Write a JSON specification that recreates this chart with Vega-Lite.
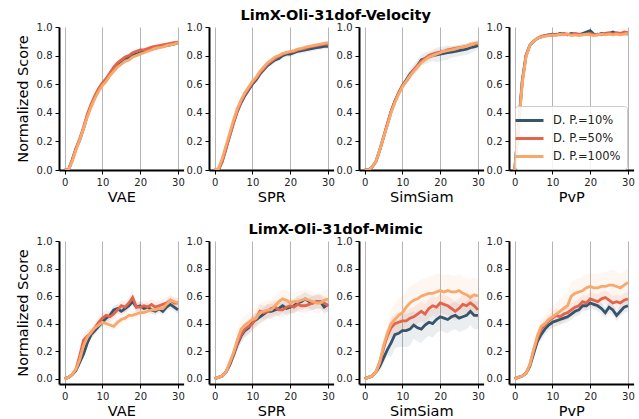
{
"$schema": "https://vega.github.io/schema/vega-lite/v6.json",
"padding": {"left": 15, "top": 7, "right": 5, "bottom": 5},
"background": "white",
"config": {
  "view": {"stroke": null},
  "font": "DejaVu Sans",
  "axis": {"domainColor": "black", "domainWidth": 2, "tickColor": "black", "tickSize": 4, "tickWidth": 1, "labelFont": "DejaVu Sans", "labelFontSize": 10, "labelColor": "#222", "labelPadding": 3, "titleFont": "DejaVu Sans", "titleFontSize": 14.5, "titleFontWeight": "normal", "titleColor": "black"},
  "axisX": {"grid": true, "gridColor": "#b5b5b5", "gridWidth": 1, "values": [0, 10, 20, 30], "titlePadding": 3, "labelFlush": false},
  "axisY": {"grid": false, "values": [0, 0.2, 0.4, 0.6, 0.8, 1.0], "format": ".1f", "titlePadding": 6},
  "legend": {"orient": "none", "legendX": 456, "legendY": 79, "title": null, "labelFont": "DejaVu Sans", "labelFontSize": 11.5, "labelColor": "#222", "symbolType": "M-2,0L2,0", "symbolSize": 196, "symbolStrokeWidth": 3, "symbolOpacity": 1, "labelOffset": 15, "rowPadding": 3, "padding": 6, "strokeColor": "#cccccc", "fillColor": "rgba(255,255,255,0.85)", "cornerRadius": 3},
  "title": {"font": "DejaVu Sans", "fontSize": 14.5, "fontWeight": "bold", "color": "black", "anchor": "middle"}
},
"datasets": {
"vVAE": [
{"s":10,"x":0,"y":0,"e":0.01},{"s":10,"x":1,"y":0,"e":0.01},{"s":10,"x":2,"y":0.07,"e":0.01},{"s":10,"x":3,"y":0.15,"e":0.01},{"s":10,"x":4,"y":0.21,"e":0.01},{"s":10,"x":5,"y":0.29,"e":0.01},{"s":10,"x":6,"y":0.38,"e":0.01},{"s":10,"x":7,"y":0.45,"e":0.01},{"s":10,"x":8,"y":0.51,"e":0.01},{"s":10,"x":9,"y":0.56,"e":0.01},{"s":10,"x":10,"y":0.6,"e":0.01},{"s":10,"x":11,"y":0.63,"e":0.01},{"s":10,"x":12,"y":0.67,"e":0.01},{"s":10,"x":13,"y":0.71,"e":0.01},{"s":10,"x":14,"y":0.73,"e":0.01},{"s":10,"x":15,"y":0.75,"e":0.01},{"s":10,"x":16,"y":0.77,"e":0.01},{"s":10,"x":17,"y":0.79,"e":0.01},{"s":10,"x":18,"y":0.8,"e":0.01},{"s":10,"x":19,"y":0.81,"e":0.01},{"s":10,"x":20,"y":0.82,"e":0.01},{"s":10,"x":21,"y":0.83,"e":0.01},{"s":10,"x":22,"y":0.84,"e":0.01},{"s":10,"x":23,"y":0.845,"e":0.01},{"s":10,"x":24,"y":0.85,"e":0.01},{"s":10,"x":25,"y":0.86,"e":0.01},{"s":10,"x":26,"y":0.865,"e":0.01},{"s":10,"x":27,"y":0.87,"e":0.01},{"s":10,"x":28,"y":0.875,"e":0.01},{"s":10,"x":29,"y":0.88,"e":0.01},{"s":10,"x":30,"y":0.89,"e":0.01},
{"s":50,"x":0,"y":0,"e":0.01},{"s":50,"x":1,"y":0,"e":0.01},{"s":50,"x":2,"y":0.07,"e":0.01},{"s":50,"x":3,"y":0.15,"e":0.01},{"s":50,"x":4,"y":0.22,"e":0.01},{"s":50,"x":5,"y":0.3,"e":0.01},{"s":50,"x":6,"y":0.39,"e":0.01},{"s":50,"x":7,"y":0.46,"e":0.01},{"s":50,"x":8,"y":0.52,"e":0.01},{"s":50,"x":9,"y":0.57,"e":0.01},{"s":50,"x":10,"y":0.61,"e":0.01},{"s":50,"x":11,"y":0.64,"e":0.01},{"s":50,"x":12,"y":0.68,"e":0.01},{"s":50,"x":13,"y":0.72,"e":0.01},{"s":50,"x":14,"y":0.75,"e":0.01},{"s":50,"x":15,"y":0.77,"e":0.01},{"s":50,"x":16,"y":0.79,"e":0.01},{"s":50,"x":17,"y":0.8,"e":0.01},{"s":50,"x":18,"y":0.82,"e":0.01},{"s":50,"x":19,"y":0.83,"e":0.01},{"s":50,"x":20,"y":0.84,"e":0.01},{"s":50,"x":21,"y":0.84,"e":0.01},{"s":50,"x":22,"y":0.85,"e":0.01},{"s":50,"x":23,"y":0.86,"e":0.01},{"s":50,"x":24,"y":0.865,"e":0.01},{"s":50,"x":25,"y":0.87,"e":0.01},{"s":50,"x":26,"y":0.875,"e":0.01},{"s":50,"x":27,"y":0.88,"e":0.01},{"s":50,"x":28,"y":0.885,"e":0.01},{"s":50,"x":29,"y":0.89,"e":0.01},{"s":50,"x":30,"y":0.895,"e":0.01},
{"s":100,"x":0,"y":0,"e":0.01},{"s":100,"x":1,"y":0,"e":0.01},{"s":100,"x":2,"y":0.06,"e":0.01},{"s":100,"x":3,"y":0.14,"e":0.01},{"s":100,"x":4,"y":0.21,"e":0.01},{"s":100,"x":5,"y":0.29,"e":0.01},{"s":100,"x":6,"y":0.37,"e":0.01},{"s":100,"x":7,"y":0.44,"e":0.01},{"s":100,"x":8,"y":0.5,"e":0.01},{"s":100,"x":9,"y":0.55,"e":0.01},{"s":100,"x":10,"y":0.59,"e":0.01},{"s":100,"x":11,"y":0.62,"e":0.01},{"s":100,"x":12,"y":0.66,"e":0.01},{"s":100,"x":13,"y":0.69,"e":0.01},{"s":100,"x":14,"y":0.72,"e":0.01},{"s":100,"x":15,"y":0.74,"e":0.01},{"s":100,"x":16,"y":0.76,"e":0.01},{"s":100,"x":17,"y":0.77,"e":0.01},{"s":100,"x":18,"y":0.79,"e":0.01},{"s":100,"x":19,"y":0.8,"e":0.01},{"s":100,"x":20,"y":0.81,"e":0.01},{"s":100,"x":21,"y":0.82,"e":0.01},{"s":100,"x":22,"y":0.83,"e":0.01},{"s":100,"x":23,"y":0.84,"e":0.01},{"s":100,"x":24,"y":0.85,"e":0.01},{"s":100,"x":25,"y":0.855,"e":0.01},{"s":100,"x":26,"y":0.86,"e":0.01},{"s":100,"x":27,"y":0.87,"e":0.01},{"s":100,"x":28,"y":0.875,"e":0.01},{"s":100,"x":29,"y":0.88,"e":0.01},{"s":100,"x":30,"y":0.89,"e":0.01}
],
"vSPR": [
{"s":10,"x":0,"y":0,"e":0.01},{"s":10,"x":1,"y":0,"e":0.01},{"s":10,"x":2,"y":0.06,"e":0.01},{"s":10,"x":3,"y":0.15,"e":0.01},{"s":10,"x":4,"y":0.24,"e":0.01},{"s":10,"x":5,"y":0.33,"e":0.01},{"s":10,"x":6,"y":0.41,"e":0.01},{"s":10,"x":7,"y":0.47,"e":0.01},{"s":10,"x":8,"y":0.52,"e":0.01},{"s":10,"x":9,"y":0.56,"e":0.01},{"s":10,"x":10,"y":0.6,"e":0.01},{"s":10,"x":11,"y":0.63,"e":0.01},{"s":10,"x":12,"y":0.67,"e":0.01},{"s":10,"x":13,"y":0.7,"e":0.01},{"s":10,"x":14,"y":0.73,"e":0.01},{"s":10,"x":15,"y":0.75,"e":0.02},{"s":10,"x":16,"y":0.77,"e":0.02},{"s":10,"x":17,"y":0.78,"e":0.02},{"s":10,"x":18,"y":0.8,"e":0.02},{"s":10,"x":19,"y":0.81,"e":0.02},{"s":10,"x":20,"y":0.81,"e":0.02},{"s":10,"x":21,"y":0.82,"e":0.02},{"s":10,"x":22,"y":0.83,"e":0.02},{"s":10,"x":23,"y":0.835,"e":0.02},{"s":10,"x":24,"y":0.84,"e":0.02},{"s":10,"x":25,"y":0.845,"e":0.02},{"s":10,"x":26,"y":0.85,"e":0.02},{"s":10,"x":27,"y":0.855,"e":0.02},{"s":10,"x":28,"y":0.86,"e":0.02},{"s":10,"x":29,"y":0.865,"e":0.02},{"s":10,"x":30,"y":0.865,"e":0.02},
{"s":50,"x":0,"y":0,"e":0.01},{"s":50,"x":1,"y":0,"e":0.01},{"s":50,"x":2,"y":0.06,"e":0.01},{"s":50,"x":3,"y":0.15,"e":0.01},{"s":50,"x":4,"y":0.24,"e":0.01},{"s":50,"x":5,"y":0.33,"e":0.01},{"s":50,"x":6,"y":0.41,"e":0.01},{"s":50,"x":7,"y":0.48,"e":0.01},{"s":50,"x":8,"y":0.53,"e":0.01},{"s":50,"x":9,"y":0.57,"e":0.01},{"s":50,"x":10,"y":0.61,"e":0.01},{"s":50,"x":11,"y":0.64,"e":0.01},{"s":50,"x":12,"y":0.68,"e":0.01},{"s":50,"x":13,"y":0.71,"e":0.01},{"s":50,"x":14,"y":0.74,"e":0.01},{"s":50,"x":15,"y":0.76,"e":0.01},{"s":50,"x":16,"y":0.78,"e":0.01},{"s":50,"x":17,"y":0.795,"e":0.01},{"s":50,"x":18,"y":0.81,"e":0.01},{"s":50,"x":19,"y":0.82,"e":0.01},{"s":50,"x":20,"y":0.825,"e":0.01},{"s":50,"x":21,"y":0.83,"e":0.01},{"s":50,"x":22,"y":0.84,"e":0.01},{"s":50,"x":23,"y":0.845,"e":0.01},{"s":50,"x":24,"y":0.85,"e":0.01},{"s":50,"x":25,"y":0.86,"e":0.01},{"s":50,"x":26,"y":0.865,"e":0.01},{"s":50,"x":27,"y":0.87,"e":0.01},{"s":50,"x":28,"y":0.875,"e":0.01},{"s":50,"x":29,"y":0.88,"e":0.01},{"s":50,"x":30,"y":0.88,"e":0.01},
{"s":100,"x":0,"y":0,"e":0.01},{"s":100,"x":1,"y":0.01,"e":0.01},{"s":100,"x":2,"y":0.08,"e":0.01},{"s":100,"x":3,"y":0.17,"e":0.01},{"s":100,"x":4,"y":0.26,"e":0.01},{"s":100,"x":5,"y":0.35,"e":0.01},{"s":100,"x":6,"y":0.43,"e":0.01},{"s":100,"x":7,"y":0.49,"e":0.01},{"s":100,"x":8,"y":0.54,"e":0.01},{"s":100,"x":9,"y":0.58,"e":0.01},{"s":100,"x":10,"y":0.62,"e":0.01},{"s":100,"x":11,"y":0.65,"e":0.01},{"s":100,"x":12,"y":0.69,"e":0.01},{"s":100,"x":13,"y":0.72,"e":0.01},{"s":100,"x":14,"y":0.75,"e":0.01},{"s":100,"x":15,"y":0.77,"e":0.01},{"s":100,"x":16,"y":0.79,"e":0.01},{"s":100,"x":17,"y":0.8,"e":0.01},{"s":100,"x":18,"y":0.815,"e":0.01},{"s":100,"x":19,"y":0.82,"e":0.01},{"s":100,"x":20,"y":0.83,"e":0.01},{"s":100,"x":21,"y":0.835,"e":0.01},{"s":100,"x":22,"y":0.845,"e":0.01},{"s":100,"x":23,"y":0.85,"e":0.01},{"s":100,"x":24,"y":0.86,"e":0.01},{"s":100,"x":25,"y":0.865,"e":0.01},{"s":100,"x":26,"y":0.87,"e":0.01},{"s":100,"x":27,"y":0.875,"e":0.01},{"s":100,"x":28,"y":0.88,"e":0.01},{"s":100,"x":29,"y":0.885,"e":0.01},{"s":100,"x":30,"y":0.89,"e":0.01}
],
"vSimSiam": [
{"s":10,"x":0,"y":0,"e":0.01},{"s":10,"x":1,"y":0,"e":0.01},{"s":10,"x":2,"y":0.02,"e":0.01},{"s":10,"x":3,"y":0.06,"e":0.01},{"s":10,"x":4,"y":0.14,"e":0.01},{"s":10,"x":5,"y":0.23,"e":0.01},{"s":10,"x":6,"y":0.32,"e":0.01},{"s":10,"x":7,"y":0.41,"e":0.01},{"s":10,"x":8,"y":0.48,"e":0.02},{"s":10,"x":9,"y":0.54,"e":0.02},{"s":10,"x":10,"y":0.59,"e":0.02},{"s":10,"x":11,"y":0.63,"e":0.03},{"s":10,"x":12,"y":0.67,"e":0.04},{"s":10,"x":13,"y":0.7,"e":0.04},{"s":10,"x":14,"y":0.73,"e":0.04},{"s":10,"x":15,"y":0.77,"e":0.04},{"s":10,"x":16,"y":0.78,"e":0.04},{"s":10,"x":17,"y":0.79,"e":0.04},{"s":10,"x":18,"y":0.8,"e":0.04},{"s":10,"x":19,"y":0.805,"e":0.05},{"s":10,"x":20,"y":0.81,"e":0.05},{"s":10,"x":21,"y":0.815,"e":0.05},{"s":10,"x":22,"y":0.82,"e":0.05},{"s":10,"x":23,"y":0.825,"e":0.04},{"s":10,"x":24,"y":0.83,"e":0.04},{"s":10,"x":25,"y":0.835,"e":0.04},{"s":10,"x":26,"y":0.84,"e":0.04},{"s":10,"x":27,"y":0.845,"e":0.04},{"s":10,"x":28,"y":0.855,"e":0.04},{"s":10,"x":29,"y":0.86,"e":0.03},{"s":10,"x":30,"y":0.87,"e":0.03},
{"s":50,"x":0,"y":0,"e":0.01},{"s":50,"x":1,"y":0,"e":0.01},{"s":50,"x":2,"y":0.02,"e":0.01},{"s":50,"x":3,"y":0.06,"e":0.01},{"s":50,"x":4,"y":0.14,"e":0.01},{"s":50,"x":5,"y":0.23,"e":0.01},{"s":50,"x":6,"y":0.32,"e":0.01},{"s":50,"x":7,"y":0.41,"e":0.01},{"s":50,"x":8,"y":0.48,"e":0.02},{"s":50,"x":9,"y":0.54,"e":0.02},{"s":50,"x":10,"y":0.59,"e":0.02},{"s":50,"x":11,"y":0.62,"e":0.02},{"s":50,"x":12,"y":0.66,"e":0.02},{"s":50,"x":13,"y":0.7,"e":0.02},{"s":50,"x":14,"y":0.73,"e":0.02},{"s":50,"x":15,"y":0.76,"e":0.02},{"s":50,"x":16,"y":0.78,"e":0.02},{"s":50,"x":17,"y":0.8,"e":0.02},{"s":50,"x":18,"y":0.81,"e":0.02},{"s":50,"x":19,"y":0.82,"e":0.02},{"s":50,"x":20,"y":0.825,"e":0.02},{"s":50,"x":21,"y":0.83,"e":0.02},{"s":50,"x":22,"y":0.84,"e":0.02},{"s":50,"x":23,"y":0.845,"e":0.02},{"s":50,"x":24,"y":0.85,"e":0.02},{"s":50,"x":25,"y":0.855,"e":0.02},{"s":50,"x":26,"y":0.86,"e":0.02},{"s":50,"x":27,"y":0.865,"e":0.02},{"s":50,"x":28,"y":0.875,"e":0.02},{"s":50,"x":29,"y":0.88,"e":0.02},{"s":50,"x":30,"y":0.885,"e":0.02},
{"s":100,"x":0,"y":0,"e":0.01},{"s":100,"x":1,"y":0,"e":0.01},{"s":100,"x":2,"y":0.02,"e":0.01},{"s":100,"x":3,"y":0.06,"e":0.01},{"s":100,"x":4,"y":0.14,"e":0.01},{"s":100,"x":5,"y":0.23,"e":0.01},{"s":100,"x":6,"y":0.31,"e":0.01},{"s":100,"x":7,"y":0.4,"e":0.01},{"s":100,"x":8,"y":0.47,"e":0.02},{"s":100,"x":9,"y":0.53,"e":0.02},{"s":100,"x":10,"y":0.58,"e":0.02},{"s":100,"x":11,"y":0.62,"e":0.02},{"s":100,"x":12,"y":0.66,"e":0.02},{"s":100,"x":13,"y":0.69,"e":0.02},{"s":100,"x":14,"y":0.72,"e":0.02},{"s":100,"x":15,"y":0.75,"e":0.02},{"s":100,"x":16,"y":0.77,"e":0.02},{"s":100,"x":17,"y":0.79,"e":0.02},{"s":100,"x":18,"y":0.8,"e":0.02},{"s":100,"x":19,"y":0.81,"e":0.02},{"s":100,"x":20,"y":0.82,"e":0.02},{"s":100,"x":21,"y":0.83,"e":0.02},{"s":100,"x":22,"y":0.835,"e":0.02},{"s":100,"x":23,"y":0.84,"e":0.02},{"s":100,"x":24,"y":0.845,"e":0.02},{"s":100,"x":25,"y":0.855,"e":0.02},{"s":100,"x":26,"y":0.86,"e":0.02},{"s":100,"x":27,"y":0.865,"e":0.02},{"s":100,"x":28,"y":0.875,"e":0.02},{"s":100,"x":29,"y":0.885,"e":0.02},{"s":100,"x":30,"y":0.89,"e":0.02}
],
"vPvP": [
{"s":10,"x":0,"y":0,"e":0.01},{"s":10,"x":1,"y":0.3,"e":0.01},{"s":10,"x":2,"y":0.62,"e":0.01},{"s":10,"x":3,"y":0.8,"e":0.01},{"s":10,"x":4,"y":0.87,"e":0.01},{"s":10,"x":5,"y":0.9,"e":0.01},{"s":10,"x":6,"y":0.92,"e":0.01},{"s":10,"x":7,"y":0.93,"e":0.01},{"s":10,"x":8,"y":0.94,"e":0.01},{"s":10,"x":9,"y":0.945,"e":0.01},{"s":10,"x":10,"y":0.95,"e":0.01},{"s":10,"x":11,"y":0.945,"e":0.01},{"s":10,"x":12,"y":0.955,"e":0.01},{"s":10,"x":13,"y":0.95,"e":0.01},{"s":10,"x":14,"y":0.945,"e":0.01},{"s":10,"x":15,"y":0.955,"e":0.01},{"s":10,"x":16,"y":0.95,"e":0.01},{"s":10,"x":17,"y":0.945,"e":0.01},{"s":10,"x":18,"y":0.955,"e":0.01},{"s":10,"x":19,"y":0.965,"e":0.01},{"s":10,"x":20,"y":0.975,"e":0.01},{"s":10,"x":21,"y":0.95,"e":0.01},{"s":10,"x":22,"y":0.945,"e":0.01},{"s":10,"x":23,"y":0.955,"e":0.01},{"s":10,"x":24,"y":0.95,"e":0.01},{"s":10,"x":25,"y":0.955,"e":0.01},{"s":10,"x":26,"y":0.965,"e":0.01},{"s":10,"x":27,"y":0.955,"e":0.01},{"s":10,"x":28,"y":0.95,"e":0.01},{"s":10,"x":29,"y":0.955,"e":0.01},{"s":10,"x":30,"y":0.95,"e":0.01},
{"s":50,"x":0,"y":0,"e":0.01},{"s":50,"x":1,"y":0.3,"e":0.01},{"s":50,"x":2,"y":0.62,"e":0.01},{"s":50,"x":3,"y":0.8,"e":0.01},{"s":50,"x":4,"y":0.87,"e":0.01},{"s":50,"x":5,"y":0.9,"e":0.01},{"s":50,"x":6,"y":0.92,"e":0.01},{"s":50,"x":7,"y":0.935,"e":0.01},{"s":50,"x":8,"y":0.94,"e":0.01},{"s":50,"x":9,"y":0.945,"e":0.01},{"s":50,"x":10,"y":0.94,"e":0.01},{"s":50,"x":11,"y":0.95,"e":0.01},{"s":50,"x":12,"y":0.945,"e":0.01},{"s":50,"x":13,"y":0.955,"e":0.01},{"s":50,"x":14,"y":0.95,"e":0.01},{"s":50,"x":15,"y":0.945,"e":0.01},{"s":50,"x":16,"y":0.955,"e":0.01},{"s":50,"x":17,"y":0.95,"e":0.01},{"s":50,"x":18,"y":0.945,"e":0.01},{"s":50,"x":19,"y":0.95,"e":0.01},{"s":50,"x":20,"y":0.955,"e":0.01},{"s":50,"x":21,"y":0.945,"e":0.01},{"s":50,"x":22,"y":0.95,"e":0.01},{"s":50,"x":23,"y":0.945,"e":0.01},{"s":50,"x":24,"y":0.955,"e":0.01},{"s":50,"x":25,"y":0.96,"e":0.01},{"s":50,"x":26,"y":0.95,"e":0.01},{"s":50,"x":27,"y":0.96,"e":0.01},{"s":50,"x":28,"y":0.955,"e":0.01},{"s":50,"x":29,"y":0.965,"e":0.01},{"s":50,"x":30,"y":0.96,"e":0.01},
{"s":100,"x":0,"y":0,"e":0.01},{"s":100,"x":1,"y":0.28,"e":0.01},{"s":100,"x":2,"y":0.6,"e":0.01},{"s":100,"x":3,"y":0.79,"e":0.01},{"s":100,"x":4,"y":0.87,"e":0.01},{"s":100,"x":5,"y":0.9,"e":0.01},{"s":100,"x":6,"y":0.92,"e":0.01},{"s":100,"x":7,"y":0.93,"e":0.01},{"s":100,"x":8,"y":0.935,"e":0.01},{"s":100,"x":9,"y":0.94,"e":0.01},{"s":100,"x":10,"y":0.945,"e":0.01},{"s":100,"x":11,"y":0.94,"e":0.01},{"s":100,"x":12,"y":0.95,"e":0.01},{"s":100,"x":13,"y":0.945,"e":0.01},{"s":100,"x":14,"y":0.95,"e":0.01},{"s":100,"x":15,"y":0.94,"e":0.01},{"s":100,"x":16,"y":0.945,"e":0.01},{"s":100,"x":17,"y":0.94,"e":0.01},{"s":100,"x":18,"y":0.945,"e":0.01},{"s":100,"x":19,"y":0.95,"e":0.01},{"s":100,"x":20,"y":0.945,"e":0.01},{"s":100,"x":21,"y":0.94,"e":0.01},{"s":100,"x":22,"y":0.945,"e":0.01},{"s":100,"x":23,"y":0.95,"e":0.01},{"s":100,"x":24,"y":0.945,"e":0.01},{"s":100,"x":25,"y":0.95,"e":0.01},{"s":100,"x":26,"y":0.945,"e":0.01},{"s":100,"x":27,"y":0.95,"e":0.01},{"s":100,"x":28,"y":0.945,"e":0.01},{"s":100,"x":29,"y":0.95,"e":0.01},{"s":100,"x":30,"y":0.955,"e":0.01}
],
"mVAE": [
{"s":10,"x":0,"y":0,"e":0.01},{"s":10,"x":1,"y":0.01,"e":0.01},{"s":10,"x":2,"y":0.03,"e":0.01},{"s":10,"x":3,"y":0.06,"e":0.01},{"s":10,"x":4,"y":0.12,"e":0.03},{"s":10,"x":5,"y":0.18,"e":0.03},{"s":10,"x":6,"y":0.26,"e":0.03},{"s":10,"x":7,"y":0.32,"e":0.03},{"s":10,"x":8,"y":0.35,"e":0.03},{"s":10,"x":9,"y":0.38,"e":0.03},{"s":10,"x":10,"y":0.41,"e":0.03},{"s":10,"x":11,"y":0.44,"e":0.03},{"s":10,"x":12,"y":0.46,"e":0.03},{"s":10,"x":13,"y":0.5,"e":0.03},{"s":10,"x":14,"y":0.51,"e":0.03},{"s":10,"x":15,"y":0.49,"e":0.03},{"s":10,"x":16,"y":0.51,"e":0.03},{"s":10,"x":17,"y":0.53,"e":0.03},{"s":10,"x":18,"y":0.56,"e":0.03},{"s":10,"x":19,"y":0.52,"e":0.03},{"s":10,"x":20,"y":0.53,"e":0.03},{"s":10,"x":21,"y":0.51,"e":0.03},{"s":10,"x":22,"y":0.52,"e":0.03},{"s":10,"x":23,"y":0.5,"e":0.03},{"s":10,"x":24,"y":0.49,"e":0.03},{"s":10,"x":25,"y":0.51,"e":0.03},{"s":10,"x":26,"y":0.49,"e":0.03},{"s":10,"x":27,"y":0.52,"e":0.03},{"s":10,"x":28,"y":0.54,"e":0.03},{"s":10,"x":29,"y":0.52,"e":0.03},{"s":10,"x":30,"y":0.5,"e":0.03},
{"s":50,"x":0,"y":0,"e":0.01},{"s":50,"x":1,"y":0.01,"e":0.01},{"s":50,"x":2,"y":0.03,"e":0.01},{"s":50,"x":3,"y":0.07,"e":0.01},{"s":50,"x":4,"y":0.17,"e":0.04},{"s":50,"x":5,"y":0.28,"e":0.04},{"s":50,"x":6,"y":0.31,"e":0.04},{"s":50,"x":7,"y":0.33,"e":0.04},{"s":50,"x":8,"y":0.37,"e":0.04},{"s":50,"x":9,"y":0.41,"e":0.04},{"s":50,"x":10,"y":0.44,"e":0.04},{"s":50,"x":11,"y":0.46,"e":0.04},{"s":50,"x":12,"y":0.45,"e":0.04},{"s":50,"x":13,"y":0.47,"e":0.04},{"s":50,"x":14,"y":0.5,"e":0.04},{"s":50,"x":15,"y":0.53,"e":0.04},{"s":50,"x":16,"y":0.52,"e":0.04},{"s":50,"x":17,"y":0.55,"e":0.04},{"s":50,"x":18,"y":0.59,"e":0.05},{"s":50,"x":19,"y":0.52,"e":0.04},{"s":50,"x":20,"y":0.52,"e":0.04},{"s":50,"x":21,"y":0.53,"e":0.04},{"s":50,"x":22,"y":0.52,"e":0.04},{"s":50,"x":23,"y":0.54,"e":0.04},{"s":50,"x":24,"y":0.52,"e":0.04},{"s":50,"x":25,"y":0.53,"e":0.04},{"s":50,"x":26,"y":0.54,"e":0.04},{"s":50,"x":27,"y":0.55,"e":0.04},{"s":50,"x":28,"y":0.57,"e":0.04},{"s":50,"x":29,"y":0.55,"e":0.04},{"s":50,"x":30,"y":0.55,"e":0.04},
{"s":100,"x":0,"y":0,"e":0.01},{"s":100,"x":1,"y":0.01,"e":0.01},{"s":100,"x":2,"y":0.03,"e":0.01},{"s":100,"x":3,"y":0.07,"e":0.01},{"s":100,"x":4,"y":0.14,"e":0.03},{"s":100,"x":5,"y":0.24,"e":0.03},{"s":100,"x":6,"y":0.3,"e":0.03},{"s":100,"x":7,"y":0.34,"e":0.03},{"s":100,"x":8,"y":0.37,"e":0.03},{"s":100,"x":9,"y":0.39,"e":0.03},{"s":100,"x":10,"y":0.41,"e":0.03},{"s":100,"x":11,"y":0.4,"e":0.03},{"s":100,"x":12,"y":0.39,"e":0.03},{"s":100,"x":13,"y":0.38,"e":0.03},{"s":100,"x":14,"y":0.41,"e":0.03},{"s":100,"x":15,"y":0.43,"e":0.03},{"s":100,"x":16,"y":0.44,"e":0.03},{"s":100,"x":17,"y":0.46,"e":0.03},{"s":100,"x":18,"y":0.46,"e":0.03},{"s":100,"x":19,"y":0.47,"e":0.03},{"s":100,"x":20,"y":0.48,"e":0.03},{"s":100,"x":21,"y":0.48,"e":0.03},{"s":100,"x":22,"y":0.49,"e":0.03},{"s":100,"x":23,"y":0.5,"e":0.03},{"s":100,"x":24,"y":0.5,"e":0.03},{"s":100,"x":25,"y":0.51,"e":0.03},{"s":100,"x":26,"y":0.51,"e":0.03},{"s":100,"x":27,"y":0.54,"e":0.03},{"s":100,"x":28,"y":0.57,"e":0.03},{"s":100,"x":29,"y":0.56,"e":0.03},{"s":100,"x":30,"y":0.55,"e":0.03}
],
"mSPR": [
{"s":10,"x":0,"y":0,"e":0.01},{"s":10,"x":1,"y":0.01,"e":0.01},{"s":10,"x":2,"y":0.02,"e":0.01},{"s":10,"x":3,"y":0.05,"e":0.01},{"s":10,"x":4,"y":0.1,"e":0.03},{"s":10,"x":5,"y":0.17,"e":0.03},{"s":10,"x":6,"y":0.25,"e":0.05},{"s":10,"x":7,"y":0.31,"e":0.05},{"s":10,"x":8,"y":0.35,"e":0.05},{"s":10,"x":9,"y":0.37,"e":0.05},{"s":10,"x":10,"y":0.41,"e":0.05},{"s":10,"x":11,"y":0.43,"e":0.05},{"s":10,"x":12,"y":0.45,"e":0.05},{"s":10,"x":13,"y":0.47,"e":0.05},{"s":10,"x":14,"y":0.49,"e":0.05},{"s":10,"x":15,"y":0.49,"e":0.05},{"s":10,"x":16,"y":0.5,"e":0.05},{"s":10,"x":17,"y":0.51,"e":0.05},{"s":10,"x":18,"y":0.53,"e":0.05},{"s":10,"x":19,"y":0.51,"e":0.05},{"s":10,"x":20,"y":0.52,"e":0.05},{"s":10,"x":21,"y":0.53,"e":0.05},{"s":10,"x":22,"y":0.55,"e":0.05},{"s":10,"x":23,"y":0.56,"e":0.05},{"s":10,"x":24,"y":0.58,"e":0.05},{"s":10,"x":25,"y":0.56,"e":0.05},{"s":10,"x":26,"y":0.55,"e":0.05},{"s":10,"x":27,"y":0.56,"e":0.05},{"s":10,"x":28,"y":0.56,"e":0.05},{"s":10,"x":29,"y":0.52,"e":0.05},{"s":10,"x":30,"y":0.54,"e":0.05},
{"s":50,"x":0,"y":0,"e":0.01},{"s":50,"x":1,"y":0.01,"e":0.01},{"s":50,"x":2,"y":0.02,"e":0.01},{"s":50,"x":3,"y":0.05,"e":0.01},{"s":50,"x":4,"y":0.11,"e":0.03},{"s":50,"x":5,"y":0.18,"e":0.03},{"s":50,"x":6,"y":0.26,"e":0.05},{"s":50,"x":7,"y":0.32,"e":0.05},{"s":50,"x":8,"y":0.36,"e":0.05},{"s":50,"x":9,"y":0.38,"e":0.05},{"s":50,"x":10,"y":0.4,"e":0.05},{"s":50,"x":11,"y":0.44,"e":0.05},{"s":50,"x":12,"y":0.49,"e":0.05},{"s":50,"x":13,"y":0.48,"e":0.05},{"s":50,"x":14,"y":0.49,"e":0.05},{"s":50,"x":15,"y":0.51,"e":0.05},{"s":50,"x":16,"y":0.52,"e":0.05},{"s":50,"x":17,"y":0.5,"e":0.05},{"s":50,"x":18,"y":0.5,"e":0.05},{"s":50,"x":19,"y":0.52,"e":0.05},{"s":50,"x":20,"y":0.53,"e":0.05},{"s":50,"x":21,"y":0.52,"e":0.05},{"s":50,"x":22,"y":0.54,"e":0.05},{"s":50,"x":23,"y":0.53,"e":0.05},{"s":50,"x":24,"y":0.53,"e":0.05},{"s":50,"x":25,"y":0.54,"e":0.05},{"s":50,"x":26,"y":0.55,"e":0.05},{"s":50,"x":27,"y":0.56,"e":0.05},{"s":50,"x":28,"y":0.56,"e":0.05},{"s":50,"x":29,"y":0.55,"e":0.05},{"s":50,"x":30,"y":0.53,"e":0.05},
{"s":100,"x":0,"y":0,"e":0.01},{"s":100,"x":1,"y":0.01,"e":0.01},{"s":100,"x":2,"y":0.02,"e":0.01},{"s":100,"x":3,"y":0.05,"e":0.01},{"s":100,"x":4,"y":0.12,"e":0.03},{"s":100,"x":5,"y":0.19,"e":0.03},{"s":100,"x":6,"y":0.28,"e":0.07},{"s":100,"x":7,"y":0.36,"e":0.07},{"s":100,"x":8,"y":0.39,"e":0.07},{"s":100,"x":9,"y":0.41,"e":0.07},{"s":100,"x":10,"y":0.43,"e":0.07},{"s":100,"x":11,"y":0.44,"e":0.07},{"s":100,"x":12,"y":0.48,"e":0.07},{"s":100,"x":13,"y":0.49,"e":0.07},{"s":100,"x":14,"y":0.5,"e":0.07},{"s":100,"x":15,"y":0.5,"e":0.07},{"s":100,"x":16,"y":0.53,"e":0.07},{"s":100,"x":17,"y":0.56,"e":0.07},{"s":100,"x":18,"y":0.58,"e":0.07},{"s":100,"x":19,"y":0.57,"e":0.07},{"s":100,"x":20,"y":0.55,"e":0.07},{"s":100,"x":21,"y":0.56,"e":0.07},{"s":100,"x":22,"y":0.56,"e":0.07},{"s":100,"x":23,"y":0.57,"e":0.07},{"s":100,"x":24,"y":0.58,"e":0.07},{"s":100,"x":25,"y":0.57,"e":0.07},{"s":100,"x":26,"y":0.56,"e":0.07},{"s":100,"x":27,"y":0.55,"e":0.07},{"s":100,"x":28,"y":0.55,"e":0.07},{"s":100,"x":29,"y":0.57,"e":0.07},{"s":100,"x":30,"y":0.58,"e":0.07}
],
"mSimSiam": [
{"s":10,"x":0,"y":0,"e":0.01},{"s":10,"x":1,"y":0.01,"e":0.01},{"s":10,"x":2,"y":0.02,"e":0.01},{"s":10,"x":3,"y":0.05,"e":0.01},{"s":10,"x":4,"y":0.09,"e":0.04},{"s":10,"x":5,"y":0.15,"e":0.04},{"s":10,"x":6,"y":0.21,"e":0.04},{"s":10,"x":7,"y":0.26,"e":0.1},{"s":10,"x":8,"y":0.32,"e":0.1},{"s":10,"x":9,"y":0.33,"e":0.1},{"s":10,"x":10,"y":0.35,"e":0.12},{"s":10,"x":11,"y":0.35,"e":0.12},{"s":10,"x":12,"y":0.36,"e":0.12},{"s":10,"x":13,"y":0.39,"e":0.1},{"s":10,"x":14,"y":0.37,"e":0.1},{"s":10,"x":15,"y":0.36,"e":0.1},{"s":10,"x":16,"y":0.39,"e":0.1},{"s":10,"x":17,"y":0.41,"e":0.1},{"s":10,"x":18,"y":0.4,"e":0.1},{"s":10,"x":19,"y":0.43,"e":0.1},{"s":10,"x":20,"y":0.45,"e":0.1},{"s":10,"x":21,"y":0.44,"e":0.1},{"s":10,"x":22,"y":0.43,"e":0.1},{"s":10,"x":23,"y":0.45,"e":0.1},{"s":10,"x":24,"y":0.46,"e":0.1},{"s":10,"x":25,"y":0.44,"e":0.1},{"s":10,"x":26,"y":0.45,"e":0.1},{"s":10,"x":27,"y":0.46,"e":0.1},{"s":10,"x":28,"y":0.49,"e":0.1},{"s":10,"x":29,"y":0.46,"e":0.1},{"s":10,"x":30,"y":0.46,"e":0.1},
{"s":50,"x":0,"y":0,"e":0.01},{"s":50,"x":1,"y":0.01,"e":0.01},{"s":50,"x":2,"y":0.02,"e":0.01},{"s":50,"x":3,"y":0.05,"e":0.01},{"s":50,"x":4,"y":0.12,"e":0.04},{"s":50,"x":5,"y":0.22,"e":0.04},{"s":50,"x":6,"y":0.31,"e":0.04},{"s":50,"x":7,"y":0.37,"e":0.07},{"s":50,"x":8,"y":0.4,"e":0.07},{"s":50,"x":9,"y":0.41,"e":0.07},{"s":50,"x":10,"y":0.42,"e":0.07},{"s":50,"x":11,"y":0.42,"e":0.07},{"s":50,"x":12,"y":0.44,"e":0.07},{"s":50,"x":13,"y":0.45,"e":0.07},{"s":50,"x":14,"y":0.47,"e":0.07},{"s":50,"x":15,"y":0.49,"e":0.07},{"s":50,"x":16,"y":0.47,"e":0.07},{"s":50,"x":17,"y":0.51,"e":0.07},{"s":50,"x":18,"y":0.53,"e":0.07},{"s":50,"x":19,"y":0.52,"e":0.07},{"s":50,"x":20,"y":0.55,"e":0.07},{"s":50,"x":21,"y":0.54,"e":0.07},{"s":50,"x":22,"y":0.53,"e":0.07},{"s":50,"x":23,"y":0.51,"e":0.07},{"s":50,"x":24,"y":0.49,"e":0.07},{"s":50,"x":25,"y":0.51,"e":0.07},{"s":50,"x":26,"y":0.54,"e":0.07},{"s":50,"x":27,"y":0.53,"e":0.07},{"s":50,"x":28,"y":0.55,"e":0.07},{"s":50,"x":29,"y":0.53,"e":0.07},{"s":50,"x":30,"y":0.5,"e":0.07},
{"s":100,"x":0,"y":0,"e":0.01},{"s":100,"x":1,"y":0.01,"e":0.01},{"s":100,"x":2,"y":0.02,"e":0.01},{"s":100,"x":3,"y":0.05,"e":0.01},{"s":100,"x":4,"y":0.12,"e":0.04},{"s":100,"x":5,"y":0.24,"e":0.04},{"s":100,"x":6,"y":0.33,"e":0.06},{"s":100,"x":7,"y":0.4,"e":0.1},{"s":100,"x":8,"y":0.43,"e":0.12},{"s":100,"x":9,"y":0.46,"e":0.12},{"s":100,"x":10,"y":0.48,"e":0.12},{"s":100,"x":11,"y":0.52,"e":0.12},{"s":100,"x":12,"y":0.55,"e":0.12},{"s":100,"x":13,"y":0.57,"e":0.12},{"s":100,"x":14,"y":0.58,"e":0.12},{"s":100,"x":15,"y":0.6,"e":0.12},{"s":100,"x":16,"y":0.61,"e":0.12},{"s":100,"x":17,"y":0.62,"e":0.12},{"s":100,"x":18,"y":0.62,"e":0.13},{"s":100,"x":19,"y":0.63,"e":0.13},{"s":100,"x":20,"y":0.64,"e":0.12},{"s":100,"x":21,"y":0.63,"e":0.12},{"s":100,"x":22,"y":0.64,"e":0.12},{"s":100,"x":23,"y":0.63,"e":0.12},{"s":100,"x":24,"y":0.63,"e":0.12},{"s":100,"x":25,"y":0.64,"e":0.12},{"s":100,"x":26,"y":0.62,"e":0.12},{"s":100,"x":27,"y":0.61,"e":0.12},{"s":100,"x":28,"y":0.59,"e":0.13},{"s":100,"x":29,"y":0.61,"e":0.13},{"s":100,"x":30,"y":0.6,"e":0.12}
],
"mPvP": [
{"s":10,"x":0,"y":0,"e":0.01},{"s":10,"x":1,"y":0.01,"e":0.01},{"s":10,"x":2,"y":0.02,"e":0.01},{"s":10,"x":3,"y":0.04,"e":0.01},{"s":10,"x":4,"y":0.09,"e":0.03},{"s":10,"x":5,"y":0.18,"e":0.04},{"s":10,"x":6,"y":0.27,"e":0.04},{"s":10,"x":7,"y":0.32,"e":0.04},{"s":10,"x":8,"y":0.36,"e":0.04},{"s":10,"x":9,"y":0.39,"e":0.04},{"s":10,"x":10,"y":0.41,"e":0.04},{"s":10,"x":11,"y":0.42,"e":0.04},{"s":10,"x":12,"y":0.43,"e":0.04},{"s":10,"x":13,"y":0.44,"e":0.04},{"s":10,"x":14,"y":0.45,"e":0.04},{"s":10,"x":15,"y":0.47,"e":0.04},{"s":10,"x":16,"y":0.49,"e":0.04},{"s":10,"x":17,"y":0.5,"e":0.04},{"s":10,"x":18,"y":0.53,"e":0.04},{"s":10,"x":19,"y":0.53,"e":0.04},{"s":10,"x":20,"y":0.55,"e":0.04},{"s":10,"x":21,"y":0.54,"e":0.04},{"s":10,"x":22,"y":0.53,"e":0.04},{"s":10,"x":23,"y":0.51,"e":0.04},{"s":10,"x":24,"y":0.48,"e":0.04},{"s":10,"x":25,"y":0.52,"e":0.04},{"s":10,"x":26,"y":0.5,"e":0.04},{"s":10,"x":27,"y":0.46,"e":0.04},{"s":10,"x":28,"y":0.49,"e":0.04},{"s":10,"x":29,"y":0.52,"e":0.04},{"s":10,"x":30,"y":0.53,"e":0.04},
{"s":50,"x":0,"y":0,"e":0.01},{"s":50,"x":1,"y":0.01,"e":0.01},{"s":50,"x":2,"y":0.02,"e":0.01},{"s":50,"x":3,"y":0.04,"e":0.01},{"s":50,"x":4,"y":0.1,"e":0.03},{"s":50,"x":5,"y":0.2,"e":0.04},{"s":50,"x":6,"y":0.29,"e":0.04},{"s":50,"x":7,"y":0.36,"e":0.04},{"s":50,"x":8,"y":0.39,"e":0.04},{"s":50,"x":9,"y":0.42,"e":0.04},{"s":50,"x":10,"y":0.44,"e":0.05},{"s":50,"x":11,"y":0.46,"e":0.05},{"s":50,"x":12,"y":0.45,"e":0.05},{"s":50,"x":13,"y":0.47,"e":0.05},{"s":50,"x":14,"y":0.48,"e":0.05},{"s":50,"x":15,"y":0.5,"e":0.05},{"s":50,"x":16,"y":0.52,"e":0.05},{"s":50,"x":17,"y":0.53,"e":0.05},{"s":50,"x":18,"y":0.56,"e":0.05},{"s":50,"x":19,"y":0.55,"e":0.05},{"s":50,"x":20,"y":0.58,"e":0.05},{"s":50,"x":21,"y":0.57,"e":0.05},{"s":50,"x":22,"y":0.56,"e":0.05},{"s":50,"x":23,"y":0.58,"e":0.05},{"s":50,"x":24,"y":0.59,"e":0.05},{"s":50,"x":25,"y":0.57,"e":0.05},{"s":50,"x":26,"y":0.55,"e":0.05},{"s":50,"x":27,"y":0.56,"e":0.05},{"s":50,"x":28,"y":0.55,"e":0.05},{"s":50,"x":29,"y":0.57,"e":0.05},{"s":50,"x":30,"y":0.58,"e":0.05},
{"s":100,"x":0,"y":0,"e":0.01},{"s":100,"x":1,"y":0.01,"e":0.01},{"s":100,"x":2,"y":0.02,"e":0.01},{"s":100,"x":3,"y":0.04,"e":0.01},{"s":100,"x":4,"y":0.1,"e":0.03},{"s":100,"x":5,"y":0.21,"e":0.04},{"s":100,"x":6,"y":0.31,"e":0.04},{"s":100,"x":7,"y":0.38,"e":0.05},{"s":100,"x":8,"y":0.4,"e":0.06},{"s":100,"x":9,"y":0.43,"e":0.07},{"s":100,"x":10,"y":0.45,"e":0.08},{"s":100,"x":11,"y":0.47,"e":0.08},{"s":100,"x":12,"y":0.49,"e":0.09},{"s":100,"x":13,"y":0.51,"e":0.09},{"s":100,"x":14,"y":0.53,"e":0.1},{"s":100,"x":15,"y":0.6,"e":0.1},{"s":100,"x":16,"y":0.62,"e":0.1},{"s":100,"x":17,"y":0.63,"e":0.1},{"s":100,"x":18,"y":0.64,"e":0.1},{"s":100,"x":19,"y":0.66,"e":0.1},{"s":100,"x":20,"y":0.67,"e":0.1},{"s":100,"x":21,"y":0.66,"e":0.1},{"s":100,"x":22,"y":0.66,"e":0.1},{"s":100,"x":23,"y":0.67,"e":0.1},{"s":100,"x":24,"y":0.67,"e":0.1},{"s":100,"x":25,"y":0.68,"e":0.11},{"s":100,"x":26,"y":0.68,"e":0.11},{"s":100,"x":27,"y":0.67,"e":0.11},{"s":100,"x":28,"y":0.66,"e":0.1},{"s":100,"x":29,"y":0.68,"e":0.1},{"s":100,"x":30,"y":0.7,"e":0.1}
]
},
"vconcat": [
{
 "title": {"text": "LimX-Oli-31dof-Velocity", "anchor": "middle", "offset": -2, "dx": 11, "dy": -1},
 "spacing": 1,
 "hconcat": [
  {"data": {"name": "vVAE"}, "width": 124.6, "height": 143,
   "encoding": {"x": {"field": "x", "type": "quantitative", "scale": {"domain": [-1.5, 31.5], "nice": false, "zero": false}, "title": "VAE"},
     "y": {"field": "y", "type": "quantitative", "scale": {"domain": [0, 1], "nice": false, "zero": false}, "title": "Normalized Score"},
     "color": {"field": "s", "type": "nominal", "scale": {"domain": [10, 50, 100], "range": ["#36546b", "#e2654b", "#f8a86b"]}, "legend": {"labelExpr": "'D. P.=' + datum.label + '%'", "encode": {"symbols": {"update": {"stroke": {"scale": "color", "field": "value"}, "strokeWidth": {"value": 3}, "opacity": {"value": 1}}}}}}},
   "layer": [
    {"mark": {"type": "errorband", "opacity": 0.1, "clip": true}, "encoding": {"yError": {"field": "e"}}},
    {"mark": {"type": "line", "strokeWidth": 2.8, "clip": true}}
   ]},
  {"data": {"name": "vSPR"}, "width": 124.6, "height": 143,
   "encoding": {"x": {"field": "x", "type": "quantitative", "scale": {"domain": [-1.5, 31.5], "nice": false, "zero": false}, "title": "SPR"},
     "y": {"field": "y", "type": "quantitative", "scale": {"domain": [0, 1], "nice": false, "zero": false}, "title": null},
     "color": {"field": "s", "type": "nominal", "scale": {"domain": [10, 50, 100], "range": ["#36546b", "#e2654b", "#f8a86b"]}}},
   "layer": [
    {"mark": {"type": "errorband", "opacity": 0.1, "clip": true}, "encoding": {"yError": {"field": "e"}}},
    {"mark": {"type": "line", "strokeWidth": 2.8, "clip": true}}
   ]},
  {"data": {"name": "vSimSiam"}, "width": 124.6, "height": 143,
   "encoding": {"x": {"field": "x", "type": "quantitative", "scale": {"domain": [-1.5, 31.5], "nice": false, "zero": false}, "title": "SimSiam"},
     "y": {"field": "y", "type": "quantitative", "scale": {"domain": [0, 1], "nice": false, "zero": false}, "title": null},
     "color": {"field": "s", "type": "nominal", "scale": {"domain": [10, 50, 100], "range": ["#36546b", "#e2654b", "#f8a86b"]}}},
   "layer": [
    {"mark": {"type": "errorband", "opacity": 0.1, "clip": true}, "encoding": {"yError": {"field": "e"}}},
    {"mark": {"type": "line", "strokeWidth": 2.8, "clip": true}}
   ]},
  {"data": {"name": "vPvP"}, "width": 124.6, "height": 143,
   "encoding": {"x": {"field": "x", "type": "quantitative", "scale": {"domain": [-1.5, 31.5], "nice": false, "zero": false}, "title": "PvP"},
     "y": {"field": "y", "type": "quantitative", "scale": {"domain": [0, 1], "nice": false, "zero": false}, "title": null},
     "color": {"field": "s", "type": "nominal", "scale": {"domain": [10, 50, 100], "range": ["#36546b", "#e2654b", "#f8a86b"]}}},
   "layer": [
    {"mark": {"type": "errorband", "opacity": 0.1, "clip": true}, "encoding": {"yError": {"field": "e"}}},
    {"mark": {"type": "line", "strokeWidth": 2.8, "clip": true}}
   ]}
 ]
},
{
 "title": {"text": "LimX-Oli-31dof-Mimic", "anchor": "middle", "offset": -2, "dx": 11, "dy": -1},
 "spacing": 1,
 "hconcat": [
  {"data": {"name": "mVAE"}, "width": 124.6, "height": 143,
   "encoding": {"x": {"field": "x", "type": "quantitative", "scale": {"domain": [-1.5, 31.5], "nice": false, "zero": false}, "title": "VAE"},
     "y": {"field": "y", "type": "quantitative", "scale": {"domain": [-0.038, 1], "nice": false, "zero": false}, "title": "Normalized Score"},
     "color": {"field": "s", "type": "nominal", "scale": {"domain": [10, 50, 100], "range": ["#36546b", "#e2654b", "#f8a86b"]}}},
   "layer": [
    {"mark": {"type": "errorband", "opacity": 0.1, "clip": true}, "encoding": {"yError": {"field": "e"}}},
    {"mark": {"type": "line", "strokeWidth": 2.8, "clip": true}}
   ]},
  {"data": {"name": "mSPR"}, "width": 124.6, "height": 143,
   "encoding": {"x": {"field": "x", "type": "quantitative", "scale": {"domain": [-1.5, 31.5], "nice": false, "zero": false}, "title": "SPR"},
     "y": {"field": "y", "type": "quantitative", "scale": {"domain": [-0.038, 1], "nice": false, "zero": false}, "title": null},
     "color": {"field": "s", "type": "nominal", "scale": {"domain": [10, 50, 100], "range": ["#36546b", "#e2654b", "#f8a86b"]}}},
   "layer": [
    {"mark": {"type": "errorband", "opacity": 0.1, "clip": true}, "encoding": {"yError": {"field": "e"}}},
    {"mark": {"type": "line", "strokeWidth": 2.8, "clip": true}}
   ]},
  {"data": {"name": "mSimSiam"}, "width": 124.6, "height": 143,
   "encoding": {"x": {"field": "x", "type": "quantitative", "scale": {"domain": [-1.5, 31.5], "nice": false, "zero": false}, "title": "SimSiam"},
     "y": {"field": "y", "type": "quantitative", "scale": {"domain": [-0.038, 1], "nice": false, "zero": false}, "title": null},
     "color": {"field": "s", "type": "nominal", "scale": {"domain": [10, 50, 100], "range": ["#36546b", "#e2654b", "#f8a86b"]}}},
   "layer": [
    {"mark": {"type": "errorband", "opacity": 0.1, "clip": true}, "encoding": {"yError": {"field": "e"}}},
    {"mark": {"type": "line", "strokeWidth": 2.8, "clip": true}}
   ]},
  {"data": {"name": "mPvP"}, "width": 124.6, "height": 143,
   "encoding": {"x": {"field": "x", "type": "quantitative", "scale": {"domain": [-1.5, 31.5], "nice": false, "zero": false}, "title": "PvP"},
     "y": {"field": "y", "type": "quantitative", "scale": {"domain": [-0.038, 1], "nice": false, "zero": false}, "title": null},
     "color": {"field": "s", "type": "nominal", "scale": {"domain": [10, 50, 100], "range": ["#36546b", "#e2654b", "#f8a86b"]}}},
   "layer": [
    {"mark": {"type": "errorband", "opacity": 0.1, "clip": true}, "encoding": {"yError": {"field": "e"}}},
    {"mark": {"type": "line", "strokeWidth": 2.8, "clip": true}}
   ]}
 ]
}
],
"spacing": 17
}
